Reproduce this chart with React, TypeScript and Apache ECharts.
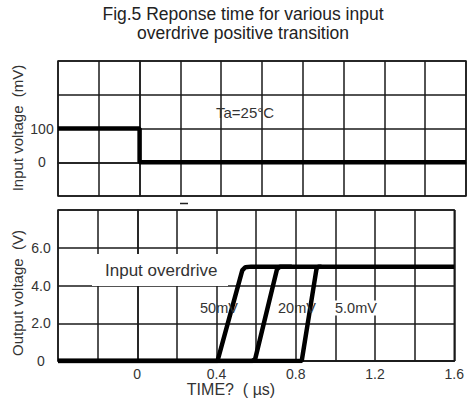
import React, { useEffect, useRef } from "react";
import * as echarts from "echarts";

// Input step (mV) vs time (µs)
const inputTime = [-0.4, 0, 0, 1.6];
const inputMv = [100, 100, 0, 0];

// Output voltage (V) vs time (µs), per input overdrive
const od50Time = [-0.4, 0.405, 0.53, 0.545, 0.575, 1.6];
const od50V = [0, 0, 4.8, 4.97, 5.0, 5.0];
const od20Time = [-0.4, 0.58, 0.595, 0.705, 0.72, 0.78];
const od20V = [0, 0, 0.1, 4.85, 5.0, 5.0];
const od5Time = [-0.4, 0.83, 0.905, 0.915, 0.93];
const od5V = [0, 0, 4.9, 5.0, 5.0];

const topYLabels = [0, 100];
const bottomYLabels = [0, 2, 4, 6];
const xLabels = [0, 0.4, 0.8, 1.2, 1.6];

const zip = (xs: number[], ys: number[]) => xs.map((x, i) => [x, ys[i]]);

const FONT = "Liberation Sans, Arial, sans-serif";
const GRID = "#1a1a1a";
const TXT = "#333";

export default function App() {
  const ref = useRef<HTMLDivElement>(null);
  useEffect(() => {
    if (!ref.current) return;
    const chart = echarts.init(ref.current, undefined, { renderer: "svg" });
    const xAxisBase = (gridIndex: number, showLabels: boolean) => ({
      type: "value",
      gridIndex,
      min: -0.4,
      max: 1.6,
      interval: 0.2,
      axisLine: { show: true, lineStyle: { color: GRID, width: 1.5 } },
      axisTick: { show: false },
      splitLine: { show: true, lineStyle: { color: GRID, width: 1.5 } },
      axisLabel: {
        show: showLabels,
        color: TXT,
        fontSize: 14,
        fontFamily: FONT,
        margin: 6,
        formatter: (v: number) => {
          const hit = xLabels.find((l) => Math.abs(l - v) < 1e-6);
          if (hit === undefined) return "";
          return hit === 0 ? "0" : hit.toFixed(1);
        },
      },
    });
    const lineSeries = (xi: number, data: number[][]) => ({
      type: "line",
      xAxisIndex: xi,
      yAxisIndex: xi,
      data,
      showSymbol: false,
      z: 5,
      lineStyle: { color: "#000", width: 4.5 },
    });
    const label = (text: string, x: number, y: number, size: number, extra: any = {}) => ({
      type: "text",
      x,
      y,
      z: 10,
      ...extra,
      style: {
        text,
        fill: TXT,
        font: `${size}px ${FONT}`,
        align: "left",
        verticalAlign: "middle",
        ...(extra.style || {}),
      },
    });
    chart.setOption({
      animation: false,
      backgroundColor: "#fff",
      grid: [
        { left: 58, top: 61, right: 1, height: 135, show: true, borderColor: GRID, borderWidth: 1.5 },
        { left: 58, top: 210, right: 1, height: 151, show: true, borderColor: GRID, borderWidth: 1.5 },
      ],
      xAxis: [xAxisBase(0, false), xAxisBase(1, true)],
      yAxis: [
        {
          type: "value",
          gridIndex: 0,
          min: -100,
          max: 300,
          interval: 100,
          axisLine: { show: true, lineStyle: { color: GRID, width: 1.5 } },
          axisTick: { show: false },
          splitLine: { show: true, lineStyle: { color: GRID, width: 1.5 } },
          axisLabel: {
            color: TXT,
            fontSize: 14,
            fontFamily: FONT,
            align: "center",
            margin: 16,
            formatter: (v: number) => (topYLabels.includes(v) ? String(v) : ""),
          },
        },
        {
          type: "value",
          gridIndex: 1,
          min: 0,
          max: 8,
          interval: 2,
          axisLine: { show: true, lineStyle: { color: GRID, width: 1.5 } },
          axisTick: { show: false },
          splitLine: { show: true, lineStyle: { color: GRID, width: 1.5 } },
          axisLabel: {
            color: TXT,
            fontSize: 14,
            fontFamily: FONT,
            align: "center",
            margin: 17,
            formatter: (v: number) =>
              bottomYLabels.includes(v) ? (v === 0 ? "0" : v.toFixed(1)) : "",
          },
        },
      ],
      series: [
        lineSeries(0, zip(inputTime, inputMv)),
        lineSeries(1, zip(od50Time, od50V)),
        lineSeries(1, zip(od20Time, od20V)),
        lineSeries(1, zip(od5Time, od5V)),
      ],
      graphic: [
        label("Fig.5 Reponse time for various input", 243, 14, 17.5, {
          style: { align: "center", fill: "#222" },
        }),
        label("overdrive positive transition", 243, 33, 17.5, {
          style: { align: "center", fill: "#222" },
        }),
        label("Input voltage  (mV)", 17, 128, 15, {
          rotation: Math.PI / 2,
          style: { align: "center" },
        }),
        label("Output voltage  (V)", 17, 293, 15, {
          rotation: Math.PI / 2,
          style: { align: "center" },
        }),
        label("TIME?  ( \u00b5s)", 231, 389, 16, { style: { align: "center" } }),
        label("Ta=25\u00b0C", 216, 112, 15),
        {
          type: "rect",
          z: 2,
          shape: { x: 92, y: 254, width: 136, height: 32 },
          style: { fill: "#fff" },
        },
        label("Input overdrive", 105, 270, 17),
        label("50mV", 200, 308, 14.5),
        label("20mV", 278, 308, 14.5),
        label("5.0mV", 335, 308, 14.5, { style: { backgroundColor: "#fff" } }),
        {
          type: "line",
          z: 10,
          shape: { x1: 180, y1: 203.5, x2: 188, y2: 203.5 },
          style: { stroke: "#222", lineWidth: 1.5 },
        },
      ],
    });
    return () => chart.dispose();
  }, []);
  return (
    <div
      ref={ref}
      style={{ position: "fixed", left: 0, top: 0, width: 467, height: 399, background: "#fff" }}
    />
  );
}
